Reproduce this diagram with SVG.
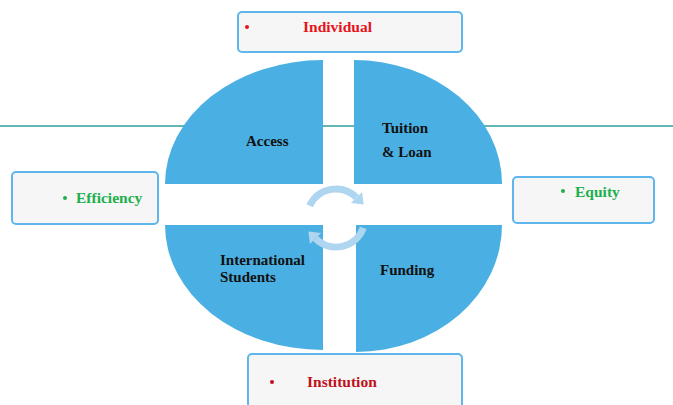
<svg xmlns="http://www.w3.org/2000/svg" width="673" height="405" viewBox="0 0 673 405">
<style>
.q{fill:#4AAFE2}
.box{fill:#F6F6F6;stroke:#5FB6EC;stroke-width:2}
.lbl{font-family:"Liberation Serif","Times New Roman",serif;font-weight:bold;font-size:15px;fill:#111}
.t{font-family:"Liberation Serif","Times New Roman",serif;font-weight:bold;font-size:15.5px}
.red{fill:#E8141C}
.dred{fill:#C0101C}
.grn{fill:#21AF4E}
.arc{fill:none;stroke:#AFD6F1;stroke-width:7}
.head{fill:#AFD6F1}
</style>
<rect width="673" height="405" fill="#FFFFFF"/>
<line x1="0" y1="126" x2="673" y2="126" stroke="#2E9E9E" stroke-width="1.5"/>
<g id="access">
<path class="q" d="M323 184 L165 184 A158 124 0 0 1 323 60 Z"/>
<text class="lbl" x="246" y="146">Access</text>
</g>
<g id="tuition-loan">
<path class="q" d="M354 184 L354 60 A148 124 0 0 1 502 184 Z"/>
<text class="lbl" x="382" y="133">Tuition</text>
<text class="lbl" x="382" y="157">&amp; Loan</text>
</g>
<g id="international-students">
<path class="q" d="M323 225 L323 350 A158 125 0 0 1 165 225 Z"/>
<text class="lbl" x="220" y="265">International</text>
<text class="lbl" x="220" y="282">Students</text>
</g>
<g id="funding">
<path class="q" d="M356 225 L502 225 A146 127 0 0 1 356 352 Z"/>
<text class="lbl" x="380" y="275">Funding</text>
</g>
<g id="connectors">
<path class="arc" d="M309.7 205.7 A29 29 0 0 1 356.5 197.5"/>
<polygon class="head" points="362.1,191.9 350.9,203.1 363.6,204.6"/>
<path class="arc" d="M363.3 227.9 A29 29 0 0 1 315.5 238.5"/>
<polygon class="head" points="309.9,244.1 321.1,232.9 308.4,231.4"/>
</g>
<g id="individual">
<rect class="box" x="238" y="12" width="224" height="40" rx="4"/>
<circle class="red" cx="247" cy="27" r="2"/>
<text class="t red" x="303" y="32">Individual</text>
</g>
<g id="efficiency">
<rect class="box" x="12" y="172" width="146" height="52" rx="4"/>
<circle class="grn" cx="65" cy="198" r="2"/>
<text class="t grn" x="76" y="203">Efficiency</text>
</g>
<g id="equity">
<rect class="box" x="513" y="177" width="141" height="46" rx="4"/>
<circle class="grn" cx="563" cy="191" r="2"/>
<text class="t grn" x="575" y="197">Equity</text>
</g>
<g id="institution">
<rect class="box" x="248" y="354" width="214" height="60" rx="4"/>
<circle class="dred" cx="272" cy="382" r="2"/>
<text class="t dred" x="307" y="387">Institution</text>
</g>
</svg>
